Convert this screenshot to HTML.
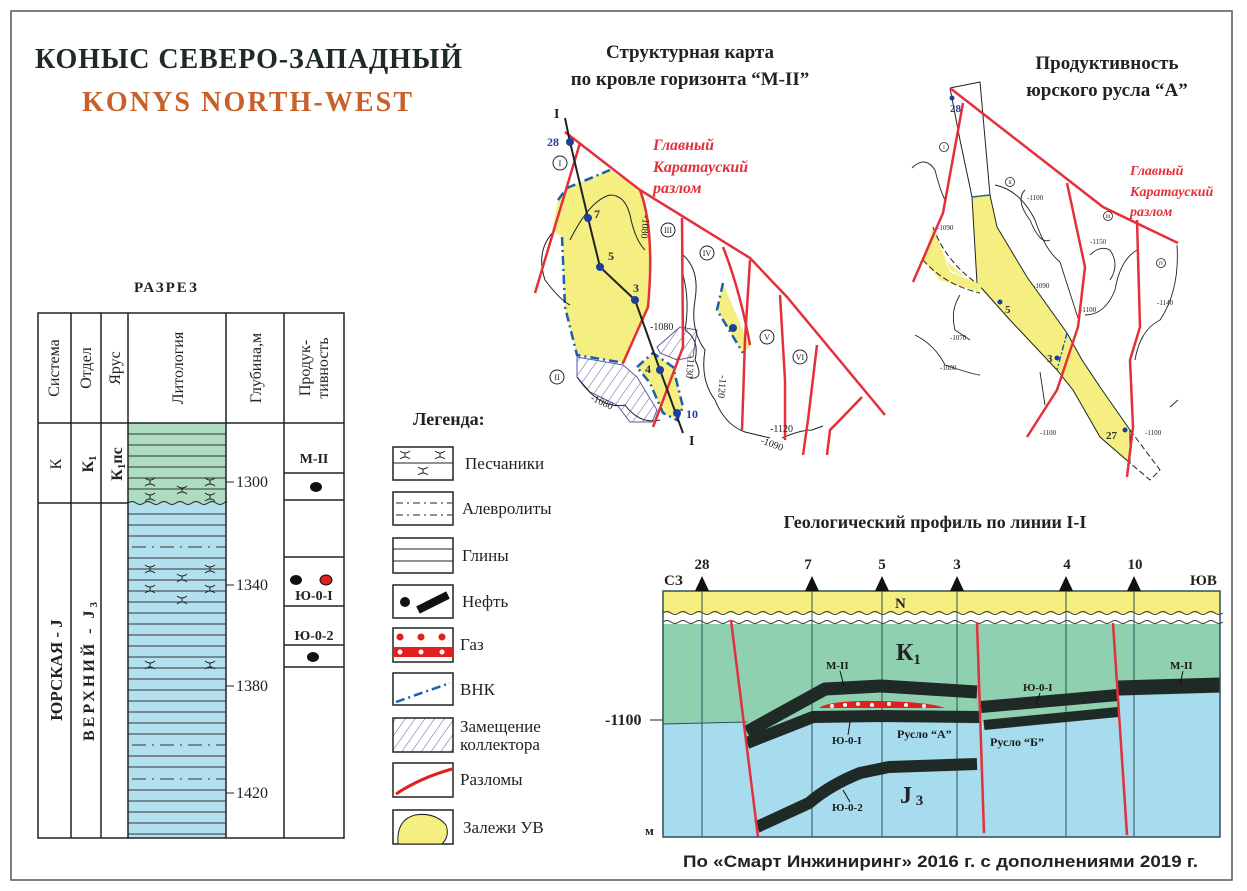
<!DOCTYPE html>
<html><head><meta charset="utf-8"><style>
html,body{margin:0;padding:0;background:#fff;}
svg{display:block;}
.s{font-family:"Liberation Serif","Noto Serif CJK SC",serif;}
.a{font-family:"Liberation Sans","Noto Sans CJK SC",sans-serif;}
</style></head><body>
<svg width="1247" height="891" viewBox="0 0 1247 891" xmlns="http://www.w3.org/2000/svg">
<defs>
<pattern id="hatch" width="8" height="8" patternUnits="userSpaceOnUse" patternTransform="rotate(35)">
<line x1="0" y1="0" x2="0" y2="8" stroke="#5a5aa0" stroke-width="1"/></pattern>
<g id="sx"><path d="M-5,-4 Q0,0 5,-4 M-5,4 Q0,0 5,4 M0,-2 L0,2" stroke="#222" fill="none" stroke-width="1"/></g>
</defs>
<rect x="11" y="11" width="1221" height="869" fill="#fff" stroke="#555" stroke-width="1.5"/>

<!-- Titles -->
<text x="35" y="68" class="s" font-size="28" font-weight="bold" fill="#1e2b24" textLength="427">КОНЫС СЕВЕРО-ЗАПАДНЫЙ</text>
<text x="82" y="111" class="s" font-size="28" font-weight="bold" fill="#c8602a" textLength="330">KONYS NORTH-WEST</text>
<text x="134" y="292" class="s" font-size="15" font-weight="bold" fill="#222" letter-spacing="2">РАЗРЕЗ</text>

<!-- Column table -->
<rect x="128" y="423" width="98" height="80" fill="#aedcc0"/>
<rect x="128" y="503" width="98" height="335" fill="#b3e0ef"/>
<g stroke="#333" stroke-width="1">
<path d="M128,434H226M128,445H226M128,456H226M128,467H226M128,478H226M128,489H226"/>
<path d="M128,514H226M128,525H226M128,536H226M128,558H226M128,569H226M128,580H226M128,591H226M128,602H226M128,613H226M128,624H226M128,635H226M128,646H226M128,657H226M128,668H226M128,679H226M128,690H226M128,701H226M128,712H226M128,723H226M128,734H226M128,756H226M128,767H226M128,790H226M128,801H226M128,812H226M128,823H226M128,834H226"/>
<path d="M132,547H226M132,745H226M132,779H226" stroke-dasharray="14,6,2,6"/>
</g>
<path d="M128,503 q4,-3 8,0 t8,0 t8,0 t8,0 t8,0 t8,0 t8,0 t8,0 t8,0 t8,0 t8,0 t8,0 t2,0" stroke="#222" fill="none"/>
<use href="#sx" x="150" y="482"/><use href="#sx" x="210" y="482"/><use href="#sx" x="182" y="490"/>
<use href="#sx" x="150" y="497"/><use href="#sx" x="210" y="497"/>
<use href="#sx" x="150" y="569"/><use href="#sx" x="210" y="569"/><use href="#sx" x="182" y="578"/>
<use href="#sx" x="150" y="589"/><use href="#sx" x="210" y="589"/><use href="#sx" x="182" y="600"/>
<use href="#sx" x="150" y="665"/><use href="#sx" x="210" y="665"/>
<g fill="none" stroke="#222" stroke-width="1.5">
<rect x="38" y="313" width="306" height="525"/>
<path d="M71,313V838M101,313V838M128,313V838M226,313V838M284,313V838M38,423H344M38,503H128M284,473H344M284,500H344M284,557H344M284,606H344M284,645H344M284,667H344"/>
<path d="M226,482H234M226,585H234M226,686H234M226,793H234" stroke-width="1"/>
</g>
<g class="s" font-size="15" fill="#222">
<text transform="translate(59,368) rotate(-90)" text-anchor="middle" font-size="16">Система</text>
<text transform="translate(91,368) rotate(-90)" text-anchor="middle" font-size="16">Отдел</text>
<text transform="translate(120,368) rotate(-90)" text-anchor="middle" font-size="16">Ярус</text>
<text transform="translate(183,368) rotate(-90)" text-anchor="middle" font-size="16">Литология</text>
<text transform="translate(261,368) rotate(-90)" text-anchor="middle" font-size="16">Глубина,м</text>
<text transform="translate(310,368) rotate(-90)" text-anchor="middle" font-size="16">Продук-</text>
<text transform="translate(328,368) rotate(-90)" text-anchor="middle" font-size="16">тивность</text>
<text transform="translate(61,464) rotate(-90)" text-anchor="middle" font-size="16">К</text>
<text transform="translate(93,464) rotate(-90)" text-anchor="middle" font-size="16" font-weight="bold">К<tspan font-size="11" dy="3">1</tspan></text>
<text transform="translate(122,464) rotate(-90)" text-anchor="middle" font-size="16" font-weight="bold">К<tspan font-size="11" dy="3">1</tspan><tspan dy="-3">пс</tspan></text>
<text transform="translate(62,670) rotate(-90)" text-anchor="middle" font-size="17" font-weight="bold">ЮРСКАЯ - J</text>
<text transform="translate(94,670) rotate(-90)" text-anchor="middle" font-size="16" font-weight="bold" letter-spacing="3">ВЕРХНИЙ - J<tspan font-size="11" dy="3">3</tspan></text>
<text x="236" y="487" font-size="16">1300</text>
<text x="236" y="590" font-size="16">1340</text>
<text x="236" y="691" font-size="16">1380</text>
<text x="236" y="798" font-size="16">1420</text>
<text x="314" y="463" text-anchor="middle" font-weight="bold" font-size="14">М-II</text>
<text x="314" y="600" text-anchor="middle" font-weight="bold" font-size="14">Ю-0-I</text>
<text x="314" y="640" text-anchor="middle" font-weight="bold" font-size="14">Ю-0-2</text>
</g>
<ellipse cx="316" cy="487" rx="6" ry="5" fill="#111"/>
<ellipse cx="296" cy="580" rx="6" ry="5" fill="#111"/>
<ellipse cx="326" cy="580" rx="6" ry="5" fill="#e02020" stroke="#111"/>
<ellipse cx="313" cy="657" rx="6" ry="5" fill="#111"/>

<!-- Legend -->
<text x="413" y="425" class="s" font-size="18" font-weight="bold" fill="#222">Легенда:</text>
<g fill="none" stroke="#222" stroke-width="1.5">
<rect x="393" y="447" width="60" height="33"/>
<rect x="393" y="492" width="60" height="33"/>
<rect x="393" y="538" width="60" height="35"/>
<rect x="393" y="585" width="60" height="33"/>
<rect x="393" y="628" width="60" height="34"/>
<rect x="393" y="673" width="60" height="32"/>
<rect x="393" y="718" width="60" height="34" fill="url(#hatch)"/>
<rect x="393" y="763" width="60" height="34"/>
<rect x="393" y="810" width="60" height="34"/>
</g>
<path d="M393,463H453" stroke="#222"/>
<use href="#sx" x="405" y="455"/><use href="#sx" x="440" y="455"/><use href="#sx" x="423" y="471"/>
<path d="M396,503H452M396,515H452" stroke="#222" stroke-dasharray="7,4,2,4"/>
<path d="M393,549H453M393,561H453" stroke="#222"/>
<ellipse cx="405" cy="602" rx="5" ry="5" fill="#111"/>
<path d="M418,610 L448,595" stroke="#111" stroke-width="8"/>
<rect x="393" y="647" width="60" height="10" fill="#e02020"/>
<g fill="#e02020"><circle cx="400" cy="637" r="3.5"/><circle cx="421" cy="637" r="3.5"/><circle cx="442" cy="637" r="3.5"/></g>
<g fill="#fff"><circle cx="400" cy="652" r="2.5"/><circle cx="421" cy="652" r="2.5"/><circle cx="442" cy="652" r="2.5"/></g>
<path d="M396,702 L450,683" stroke="#1b5fb0" stroke-width="2.5" stroke-dasharray="9,4,2,4"/>
<path d="M396,794 Q420,778 452,769" stroke="#e02020" stroke-width="3" fill="none"/>
<path d="M398,844 Q396,820 415,815 Q435,812 446,825 Q450,836 442,844Z" fill="#f4ef80" stroke="#222"/>
<g class="s" font-size="17" fill="#222">
<text x="465" y="469">Песчаники</text>
<text x="462" y="514">Алевролиты</text>
<text x="462" y="561">Глины</text>
<text x="462" y="607">Нефть</text>
<text x="460" y="650">Газ</text>
<text x="460" y="695">ВНК</text>
<text x="460" y="732">Замещение</text>
<text x="460" y="750">коллектора</text>
<text x="460" y="785">Разломы</text>
<text x="463" y="833">Залежи УВ</text>
</g>

<!-- Map 1 -->
<text x="690" y="58" text-anchor="middle" class="s" font-size="19" font-weight="bold" fill="#222">Структурная карта</text>
<text x="690" y="85" text-anchor="middle" class="s" font-size="19" font-weight="bold" fill="#222">по кровле горизонта “М-II”</text>
<path d="M567,188 L610,170 L640,190 L650,223 L648,307 L625,363 L577,355 L565,307 L562,237 L552,230 L558,200Z" fill="#f4ef80"/>
<path d="M567,188 L610,170 M558,200 L567,188 M562,237 L565,307 L577,355 L625,363" fill="none" stroke="#1b5fb0" stroke-width="2.5" stroke-dasharray="9,4,2,4"/>
<path d="M577,357 L623,365 L637,377 L657,410 L652,422 L630,422 L617,405 L590,392 L577,377Z" fill="url(#hatch)" stroke="#5a5aa0"/>
<path d="M657,347 L680,327 L697,330 L693,357 L677,360 L660,353Z" fill="url(#hatch)" stroke="#5a5aa0"/>
<path d="M637,367 L653,353 L673,367 L683,407 L677,420 L663,413 L650,383Z" fill="#f4ef80" stroke="#1b5fb0" stroke-width="2.5" stroke-dasharray="9,4,2,4"/>
<path d="M723,283 L750,347 L743,353 L717,310Z" fill="#f4ef80"/>
<path d="M723,283 L717,310 L743,353" fill="none" stroke="#1b5fb0" stroke-width="2.5" stroke-dasharray="9,4,2,4"/>
<g fill="none" stroke="#222" stroke-width="1">
<path d="M555,230 Q535,250 545,280 Q560,300 570,305"/>
<path d="M570,240 Q590,200 610,195 Q625,195 630,215 Q635,240 645,250"/>
<path d="M683,255 Q700,270 695,300 Q690,330 705,350 Q700,380 715,400 Q725,425 745,432 L770,438"/>
<path d="M683,275 Q690,300 685,330 Q700,340 695,360 Q705,380 690,378"/>
<path d="M577,377 Q600,410 625,405 Q640,425 660,420"/>
<path d="M782,438 Q800,430 812,430 L823,426"/>
</g>
<g fill="none" stroke="#e3303a" stroke-width="2.5">
<path d="M565,132 L640,190 L750,258 L787,297 L885,415"/>
<path d="M580,143 L535,293"/>
<path d="M640,190 Q655,230 648,307 L623,363"/>
<path d="M682,218 L683,347 L653,427"/>
<path d="M723,247 Q740,290 750,345"/>
<path d="M750,260 L745,340 L742,430"/>
<path d="M780,295 L785,380 L785,440"/>
<path d="M817,345 L808,420 L803,455"/>
<path d="M862,397 Q840,420 830,430 L827,455"/>
</g>
<path d="M565,118 L570,142 L588,218 L600,267 L635,300 L660,370 L683,433" fill="none" stroke="#222" stroke-width="2"/>
<g fill="#1b3fa0"><circle cx="570" cy="142" r="4"/><circle cx="588" cy="218" r="4"/><circle cx="600" cy="267" r="4"/><circle cx="635" cy="300" r="4"/><circle cx="660" cy="370" r="4"/><circle cx="677" cy="413" r="4"/><circle cx="733" cy="328" r="4"/></g>
<g class="s" font-weight="bold" font-size="12" fill="#2a3f9a">
<text x="547" y="146">28</text><text x="594" y="218" fill="#333">7</text><text x="608" y="260" fill="#333">5</text><text x="633" y="292" fill="#333">3</text><text x="645" y="373" fill="#333">4</text><text x="686" y="418">10</text>
</g>
<g class="s" font-weight="bold" font-size="14" fill="#222"><text x="554" y="118">I</text><text x="689" y="445">I</text></g>
<g fill="#fff" stroke="#222" stroke-width="1"><circle cx="560" cy="163" r="7"/><circle cx="557" cy="377" r="7"/><circle cx="668" cy="230" r="7"/><circle cx="707" cy="253" r="7"/><circle cx="767" cy="337" r="7"/><circle cx="800" cy="357" r="7"/></g>
<g class="s" font-size="8" fill="#222" text-anchor="middle"><text x="560" y="166">I</text><text x="557" y="380">II</text><text x="668" y="233">III</text><text x="707" y="256">IV</text><text x="767" y="340">V</text><text x="800" y="360">VI</text></g>
<g class="s" font-size="10" fill="#222"><text x="650" y="330">-1080</text><text x="590" y="400" transform="rotate(25 590 400)">-1080</text><text x="770" y="432">-1120</text><text x="760" y="443" transform="rotate(20 760 443)">-1090</text><text x="643" y="215" transform="rotate(95 643 215)">-1080</text><text x="688" y="355" transform="rotate(95 688 355)">-1130</text><text x="720" y="375" transform="rotate(95 720 375)">-1120</text></g>
<g class="s" font-size="16" font-weight="bold" font-style="italic" fill="#e3303a"><text x="653" y="150">Главный</text><text x="653" y="172">Каратауский</text><text x="653" y="193">разлом</text></g>

<!-- Map 2 -->
<text x="1107" y="69" text-anchor="middle" class="s" font-size="19" font-weight="bold" fill="#222">Продуктивность</text>
<text x="1107" y="96" text-anchor="middle" class="s" font-size="19" font-weight="bold" fill="#222">юрского русла “А”</text>
<path d="M972,197 L977,283 L1010,320 L1057,370 L1073,390 L1100,437 L1130,463 L1130,430 L1100,387 L1082,360 L1067,333 L1027,277 L997,227 L990,195Z" fill="#f4ef80" stroke="#222"/>
<path d="M933,227 L945,260 L980,290 L977,283 L950,270 Z M923,260 L940,280 L980,292 L982,285 L950,272 L933,227Z" fill="#f4ef80"/>
<path d="M933,227 Q945,260 975,282 M923,260 Q945,285 980,293" fill="none" stroke="#222" stroke-dasharray="6,3"/>
<path d="M950,88 L980,82 L990,195 M950,88 L960,140 L972,197" fill="none" stroke="#222"/>
<path d="M1130,430 L1160,470 L1150,480 L1130,463" fill="none" stroke="#222" stroke-dasharray="6,3"/>
<path d="M972,197 L990,195 M1067,333 L1057,370" stroke="#1b5fb0" stroke-width="1.5" stroke-dasharray="6,2,2,2"/>
<g fill="none" stroke="#222" stroke-width="0.9">
<path d="M912,168 Q925,155 935,170 Q940,190 945,200"/>
<path d="M1025,190 Q1015,200 1030,220 Q1040,245 1050,240"/>
<path d="M995,185 Q1020,190 1035,220 Q1045,250 1060,262 L1078,318"/>
<path d="M1090,255 Q1100,245 1110,250 Q1120,265 1110,280"/>
<path d="M1137,250 Q1120,260 1115,290 Q1105,315 1085,315"/>
<path d="M1177,245 Q1180,290 1160,320 Q1140,330 1135,360"/>
<path d="M960,295 Q950,310 955,330 L970,340"/>
<path d="M915,335 Q935,345 945,365 Q975,375 980,375"/>
<path d="M1040,372 L1045,405 M1170,407 L1178,400"/>
</g>
<g class="s" font-size="7" fill="#222"><text x="1027" y="200">-1100</text><text x="1090" y="244">-1150</text><text x="1033" y="288">-1090</text><text x="1080" y="312">-1100</text><text x="950" y="340">-1070</text><text x="940" y="370">-1080</text><text x="1040" y="435">-1100</text><text x="1145" y="435">-1100</text><text x="937" y="230">-1090</text><text x="1157" y="305">-1140</text></g>
<g fill="none" stroke="#e3303a" stroke-width="2.5">
<path d="M950,88 L1103,207 L1178,243"/>
<path d="M963,103 L943,213 L913,282"/>
<path d="M1067,183 L1085,267 L1078,327 L1057,390 L1027,437"/>
<path d="M1137,220 L1140,327 L1130,360 L1133,427 L1127,477"/>
</g>
<g fill="#1b3fa0"><circle cx="952" cy="98" r="2.5"/><circle cx="1000" cy="302" r="2.5"/><circle cx="1057" cy="358" r="2.5"/><circle cx="1125" cy="430" r="2.5"/></g>
<g class="s" font-size="11" font-weight="bold" fill="#2a3f9a"><text x="950" y="112">28</text><text x="1005" y="313" fill="#333">5</text><text x="1047" y="362" fill="#333">3</text><text x="1106" y="439" fill="#333">27</text></g>
<g fill="#fff" stroke="#222" stroke-width="0.8"><circle cx="944" cy="147" r="4.5"/><circle cx="1010" cy="182" r="4.5"/><circle cx="1108" cy="216" r="4.5"/><circle cx="1161" cy="263" r="4.5"/></g>
<g class="s" font-size="5" fill="#222" text-anchor="middle"><text x="944" y="149">I</text><text x="1010" y="184">II</text><text x="1108" y="218">III</text><text x="1161" y="265">IV</text></g>
<g class="s" font-size="14" font-weight="bold" font-style="italic" fill="#e3303a"><text x="1130" y="175">Главный</text><text x="1130" y="196">Каратауский</text><text x="1130" y="216">разлом</text></g>

<!-- Profile -->
<text x="935" y="528" text-anchor="middle" class="s" font-size="18" font-weight="bold" fill="#222">Геологический профиль по линии I-I</text>
<rect x="663" y="591" width="557" height="246" fill="#a6dced"/>
<path d="M663,622 H1220 V693 L1118,696 L1118,717 L984,728 L981,714 L977,724 L881,720 L813,723 L747,748 L743,722 L663,724Z" fill="#8fd0b1"/>
<rect x="663" y="591" width="557" height="22" fill="#f4ef80"/>
<path d="M663,613 H1220 V624 H663Z" fill="#fff"/>
<path d="M663,613 q4,-3 8,0 t8,0 t8,0 t8,0 t8,0 t8,0 t8,0 t8,0 t8,0 t8,0 t8,0 t8,0 t8,0 t8,0 t8,0 t8,0 t8,0 t8,0 t8,0 t8,0 t8,0 t8,0 t8,0 t8,0 t8,0 t8,0 t8,0 t8,0 t8,0 t8,0 t8,0 t8,0 t8,0 t8,0 t8,0 t8,0 t8,0 t8,0 t8,0 t8,0 t8,0 t8,0 t8,0 t8,0 t8,0 t8,0 t8,0 t8,0 t8,0 t8,0 t8,0 t8,0 t8,0 t8,0 t8,0 t8,0 t8,0 t8,0 t8,0 t8,0 t8,0 t8,0 t8,0 t8,0 t8,0 t8,0 t8,0 t8,0 t8,0 t8,0 M663,622 q4,-3 8,0 t8,0 t8,0 t8,0 t8,0 t8,0 t8,0 t8,0 t8,0 t8,0 t8,0 t8,0 t8,0 t8,0 t8,0 t8,0 t8,0 t8,0 t8,0 t8,0 t8,0 t8,0 t8,0 t8,0 t8,0 t8,0 t8,0 t8,0 t8,0 t8,0 t8,0 t8,0 t8,0 t8,0 t8,0 t8,0 t8,0 t8,0 t8,0 t8,0 t8,0 t8,0 t8,0 t8,0 t8,0 t8,0 t8,0 t8,0 t8,0 t8,0 t8,0 t8,0 t8,0 t8,0 t8,0 t8,0 t8,0 t8,0 t8,0 t8,0 t8,0 t8,0 t8,0 t8,0 t8,0 t8,0 t8,0 t8,0 t8,0 t8,0" fill="none" stroke="#333" stroke-width="1"/>
<g stroke="#2f4f5a" stroke-width="1"><path d="M702,591V837M812,591V837M882,591V837M957,591V837M1066,591V837M1134,591V837M663,724 L747,722"/></g>
<path d="M819,708 Q830,700 880,701 Q930,702 945,708Z" fill="#e02020"/>
<g fill="#fff"><circle cx="832" cy="706" r="2"/><circle cx="845" cy="705" r="2"/><circle cx="858" cy="704" r="2"/><circle cx="872" cy="705" r="2"/><circle cx="889" cy="704" r="2"/><circle cx="906" cy="705" r="2"/><circle cx="924" cy="706" r="2"/></g>
<g fill="none" stroke="#1f2a26" stroke-linejoin="round">
<path d="M747,732 L825,689 L881,686 L977,692" stroke-width="13"/>
<path d="M747,743 L813,717 L881,716 L980,717" stroke-width="12"/>
<path d="M981,707 L1118,695" stroke-width="12"/>
<path d="M984,725 L1118,712" stroke-width="10"/>
<path d="M1118,688 L1220,685" stroke-width="15"/>
<path d="M757,827 L809,803 Q830,785 860,773 L889,767 L977,764" stroke-width="12"/>
</g>
<g stroke="#e3303a" stroke-width="2.5"><path d="M731,620 L758,837"/><path d="M977,622 L984,833"/><path d="M1113,623 L1127,835"/></g>
<rect x="663" y="591" width="557" height="246" fill="none" stroke="#2f4f5a" stroke-width="1.5"/>
<g fill="#111"><path d="M695,591 L702,576 L709,591Z"/><path d="M805,591 L812,576 L819,591Z"/><path d="M875,591 L882,576 L889,591Z"/><path d="M950,591 L957,576 L964,591Z"/><path d="M1059,591 L1066,576 L1073,591Z"/><path d="M1127,591 L1134,576 L1141,591Z"/></g>
<g class="s" font-weight="bold" fill="#222" font-size="15">
<text x="702" y="569" text-anchor="middle">28</text><text x="808" y="569" text-anchor="middle">7</text><text x="882" y="569" text-anchor="middle">5</text><text x="957" y="569" text-anchor="middle">3</text><text x="1067" y="569" text-anchor="middle">4</text><text x="1135" y="569" text-anchor="middle">10</text>
<text x="664" y="585">СЗ</text><text x="1190" y="585">ЮВ</text>
<text x="605" y="725" font-size="16">-1100</text>
<text x="645" y="835" font-size="13">м</text>
<text x="895" y="608" font-size="15">N</text>
<text x="896" y="660" font-size="24">К<tspan font-size="15" dy="4">1</tspan></text>
<text x="900" y="803" font-size="24">J<tspan font-size="15" dy="2"> 3</tspan></text>
</g>
<path d="M650,720 H663" stroke="#222"/>
<g class="s" font-weight="bold" fill="#1a1a1a" font-size="11">
<text x="826" y="669">М-II</text><text x="832" y="744">Ю-0-I</text><text x="897" y="738" font-size="12">Русло “А”</text><text x="990" y="746" font-size="12">Русло “Б”</text><text x="1023" y="691">Ю-0-I</text><text x="1170" y="669">М-II</text><text x="832" y="811">Ю-0-2</text>
</g>
<g stroke="#111" stroke-width="1"><path d="M840,671 L844,686 M848,735 L850,722 M1040,693 L1036,705 M1183,671 L1180,685 M850,802 L843,790"/></g>
<text x="683" y="867" class="a" font-size="17" font-weight="bold" fill="#222" textLength="515" lengthAdjust="spacingAndGlyphs">По «Смарт Инжиниринг» 2016 г. с дополнениями 2019 г.</text>
</svg>
</body></html>
